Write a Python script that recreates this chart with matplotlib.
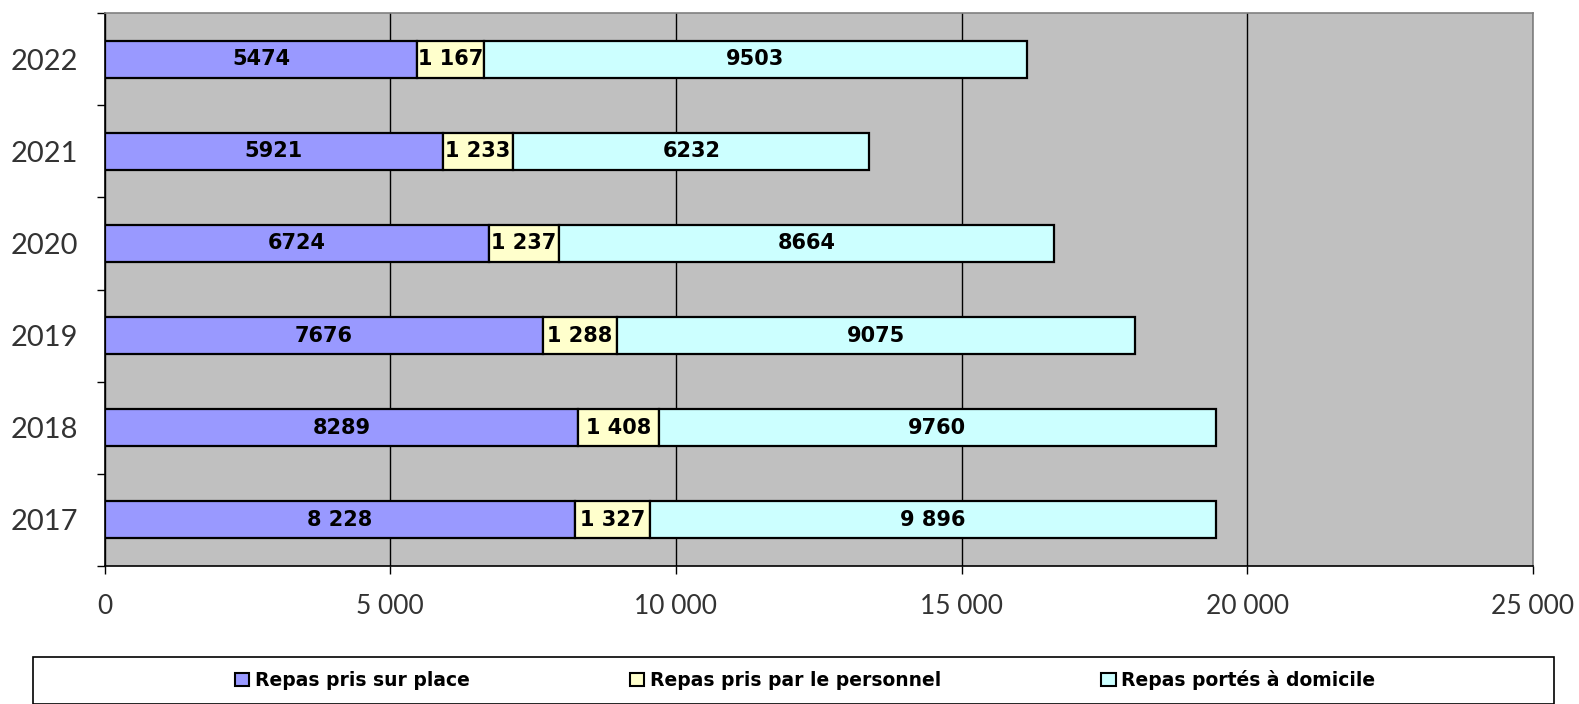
import matplotlib
matplotlib.use("Agg")
import matplotlib.pyplot as plt
from matplotlib.patches import Rectangle, Patch
import numpy as np

years = ["2017", "2018", "2019", "2020", "2021", "2022"]
sur_place = [8228, 8289, 7676, 6724, 5921, 5474]
personnel = [1327, 1408, 1288, 1237, 1233, 1167]
domicile = [9896, 9760, 9075, 8664, 6232, 9503]
lbl_sur_place = ["8 228", "8289", "7676", "6724", "5921", "5474"]
lbl_personnel = ["1 327", "1 408", "1 288", "1 237", "1 233", "1 167"]
lbl_domicile = ["9 896", "9760", "9075", "8664", "6232", "9503"]
series_names = ["Repas pris sur place", "Repas pris par le personnel", "Repas portés à domicile"]
colors = ["#9999FF", "#FFFFCC", "#CCFFFF"]
xticks = [0, 5000, 10000, 15000, 20000, 25000]
xticklabels = ["0", "5 000", "10 000", "15 000", "20 000", "25 000"]

W, H = 1579, 704
fig = plt.figure(figsize=(W / 100, H / 100), dpi=100)
ax = fig.add_axes([104.7 / W, 1 - 566 / H, (1532.7 - 104.7) / W, (566 - 13.1) / H])
ax.set_facecolor("#C0C0C0")

y = np.arange(len(years))
bh = 0.40
left = np.zeros(len(years))
for vals, labels, c, name in zip([sur_place, personnel, domicile],
                                 [lbl_sur_place, lbl_personnel, lbl_domicile],
                                 colors, series_names):
    bars = ax.barh(y, vals, left=left, height=bh, color=c, edgecolor="black",
                   linewidth=1.6, zorder=3, label=name)
    ax.bar_label(bars, labels=labels, label_type="center", fontsize=15,
                 fontweight="bold", family="DejaVu Sans", color="black", zorder=4)
    left = left + np.array(vals)

ax.set_xlim(0, 25000)
ax.set_ylim(-0.5, len(years) - 0.5)
ax.set_xticks(xticks)
ax.set_xticklabels(xticklabels, family="Lato", fontweight="normal", fontsize=19, color="#333333")
ax.tick_params(axis="x", direction="out", length=6, width=1, pad=14)
ax.xaxis.grid(True, color="black", linewidth=1, zorder=1)
ax.set_axisbelow(True)

ax.set_yticks(np.arange(-0.5, len(years), 1.0))
ax.set_yticklabels([])
ax.tick_params(axis="y", which="major", direction="out", length=6, width=1)
ax.set_yticks(y, minor=True)
ax.set_yticklabels(years, minor=True, family="Lato", fontweight="normal", fontsize=21, color="#333333")
ax.tick_params(axis="y", which="minor", length=0, pad=19)

for s in ["left", "bottom"]:
    ax.spines[s].set_color("black")
    ax.spines[s].set_linewidth(1.2)
for s in ["top", "right"]:
    ax.spines[s].set_color("#808080")
    ax.spines[s].set_linewidth(1.2)

# legend frame
fig.patches.append(Rectangle((33 / W, 0.0), (1554 - 33) / W, 47 / H, transform=fig.transFigure,
                             facecolor="white", edgecolor="black", linewidth=1.2, zorder=0))
handles = [Patch(facecolor=c, edgecolor="black", linewidth=1.5) for c in colors]
leg = fig.legend(handles, series_names, loc="center", bbox_to_anchor=(0.51, 24 / H), ncol=3,
                 frameon=False, handlelength=0.75, handleheight=0.75, handletextpad=0.3,
                 columnspacing=8.55, prop={"family": "DejaVu Sans", "weight": "bold", "size": 13.5})

fig.savefig("out.png", dpi=100)
